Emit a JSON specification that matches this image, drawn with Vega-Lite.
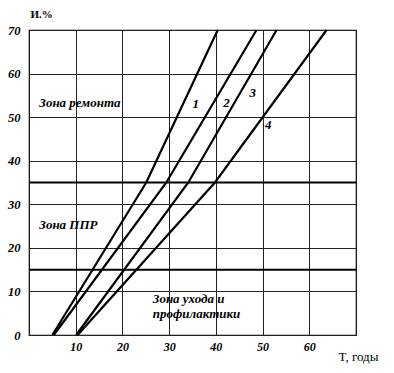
{
  "$schema": "https://vega.github.io/schema/vega-lite/v6.json",
  "width": 327,
  "height": 305,
  "autosize": {"type": "none"},
  "padding": {"left": 29, "top": 30, "right": 38, "bottom": 38},
  "background": "white",
  "config": {
    "view": {"stroke": "black", "strokeWidth": 1.2},
    "font": "Liberation Serif"
  },
  "datasets": {
    "curves": [
      {"T": 5.0, "I": 0, "line": "1"}, {"T": 25.1, "I": 35, "line": "1"}, {"T": 40.4, "I": 70, "line": "1"},
      {"T": 5.3, "I": 0, "line": "2"}, {"T": 29.4, "I": 35, "line": "2"}, {"T": 48.7, "I": 70, "line": "2"},
      {"T": 10.1, "I": 0, "line": "3"}, {"T": 34.1, "I": 35, "line": "3"}, {"T": 53.0, "I": 70, "line": "3"},
      {"T": 10.4, "I": 0, "line": "4"}, {"T": 39.8, "I": 35, "line": "4"}, {"T": 63.7, "I": 70, "line": "4"}
    ],
    "zones": [{"I": 15}, {"I": 35}],
    "curveLabels": [
      {"T": 35.7, "I": 53.1, "label": "1"},
      {"T": 42.3, "I": 53.3, "label": "2"},
      {"T": 47.9, "I": 55.6, "label": "3"},
      {"T": 51.2, "I": 48.2, "label": "4"}
    ],
    "zoneLabels": [
      {"T": 2.2, "I": 53.2, "label": "Зона ремонта"},
      {"T": 2.2, "I": 25.2, "label": "Зона ППР"},
      {"T": 26.5, "I": 8.3, "label": "Зона ухода и"},
      {"T": 26.5, "I": 4.8, "label": "профилактики"}
    ]
  },
  "layer": [
    {
      "data": {"name": "curves"},
      "mark": {"type": "line", "color": "black", "strokeWidth": 2.2},
      "encoding": {
        "x": {
          "field": "T", "type": "quantitative",
          "scale": {"domain": [0, 70], "nice": false, "zero": false},
          "axis": {
            "values": [10, 20, 30, 40, 50, 60],
            "grid": true, "gridColor": "#222", "gridWidth": 1, "gridOpacity": 1,
            "domain": false, "ticks": false,
            "labelFont": "Liberation Serif", "labelFontStyle": "italic", "labelFontWeight": "bold",
            "labelFontSize": 12, "labelColor": "black", "labelPadding": 6,
            "title": "T, годы", "titleFont": "Liberation Serif", "titleFontWeight": "normal",
            "titleFontSize": 13, "titleColor": "black", "titleAlign": "left", "titleBaseline": "middle",
            "titleX": 309, "titleY": 21
          }
        },
        "y": {
          "field": "I", "type": "quantitative",
          "scale": {"domain": [0, 70], "nice": false},
          "axis": {
            "values": [0, 10, 20, 30, 40, 50, 60, 70],
            "grid": true, "gridColor": "#222", "gridWidth": 1, "gridOpacity": 1,
            "domain": false, "ticks": false,
            "labelFont": "Liberation Serif", "labelFontStyle": "italic", "labelFontWeight": "bold",
            "labelFontSize": 12.5, "labelColor": "black", "labelPadding": 9,
            "title": "И.%", "titleFont": "Liberation Serif", "titleFontWeight": "bold",
            "titleFontSize": 11, "titleColor": "black", "titleAngle": 0, "titleAlign": "left",
            "titleBaseline": "middle", "titleX": 1, "titleY": -16
          }
        },
        "detail": {"field": "line"}
      }
    },
    {
      "data": {"name": "zones"},
      "mark": {"type": "rule", "color": "black", "strokeWidth": 2},
      "encoding": {"y": {"field": "I", "type": "quantitative"}}
    },
    {
      "data": {"name": "curveLabels"},
      "mark": {"type": "text", "font": "Liberation Serif", "fontStyle": "italic", "fontWeight": "bold", "fontSize": 13, "color": "black"},
      "encoding": {
        "x": {"field": "T", "type": "quantitative"},
        "y": {"field": "I", "type": "quantitative"},
        "text": {"field": "label"}
      }
    },
    {
      "data": {"name": "zoneLabels"},
      "mark": {"type": "text", "font": "Liberation Serif", "fontStyle": "italic", "fontWeight": "bold", "fontSize": 13, "color": "black", "align": "left"},
      "encoding": {
        "x": {"field": "T", "type": "quantitative"},
        "y": {"field": "I", "type": "quantitative"},
        "text": {"field": "label"}
      }
    }
  ]
}
